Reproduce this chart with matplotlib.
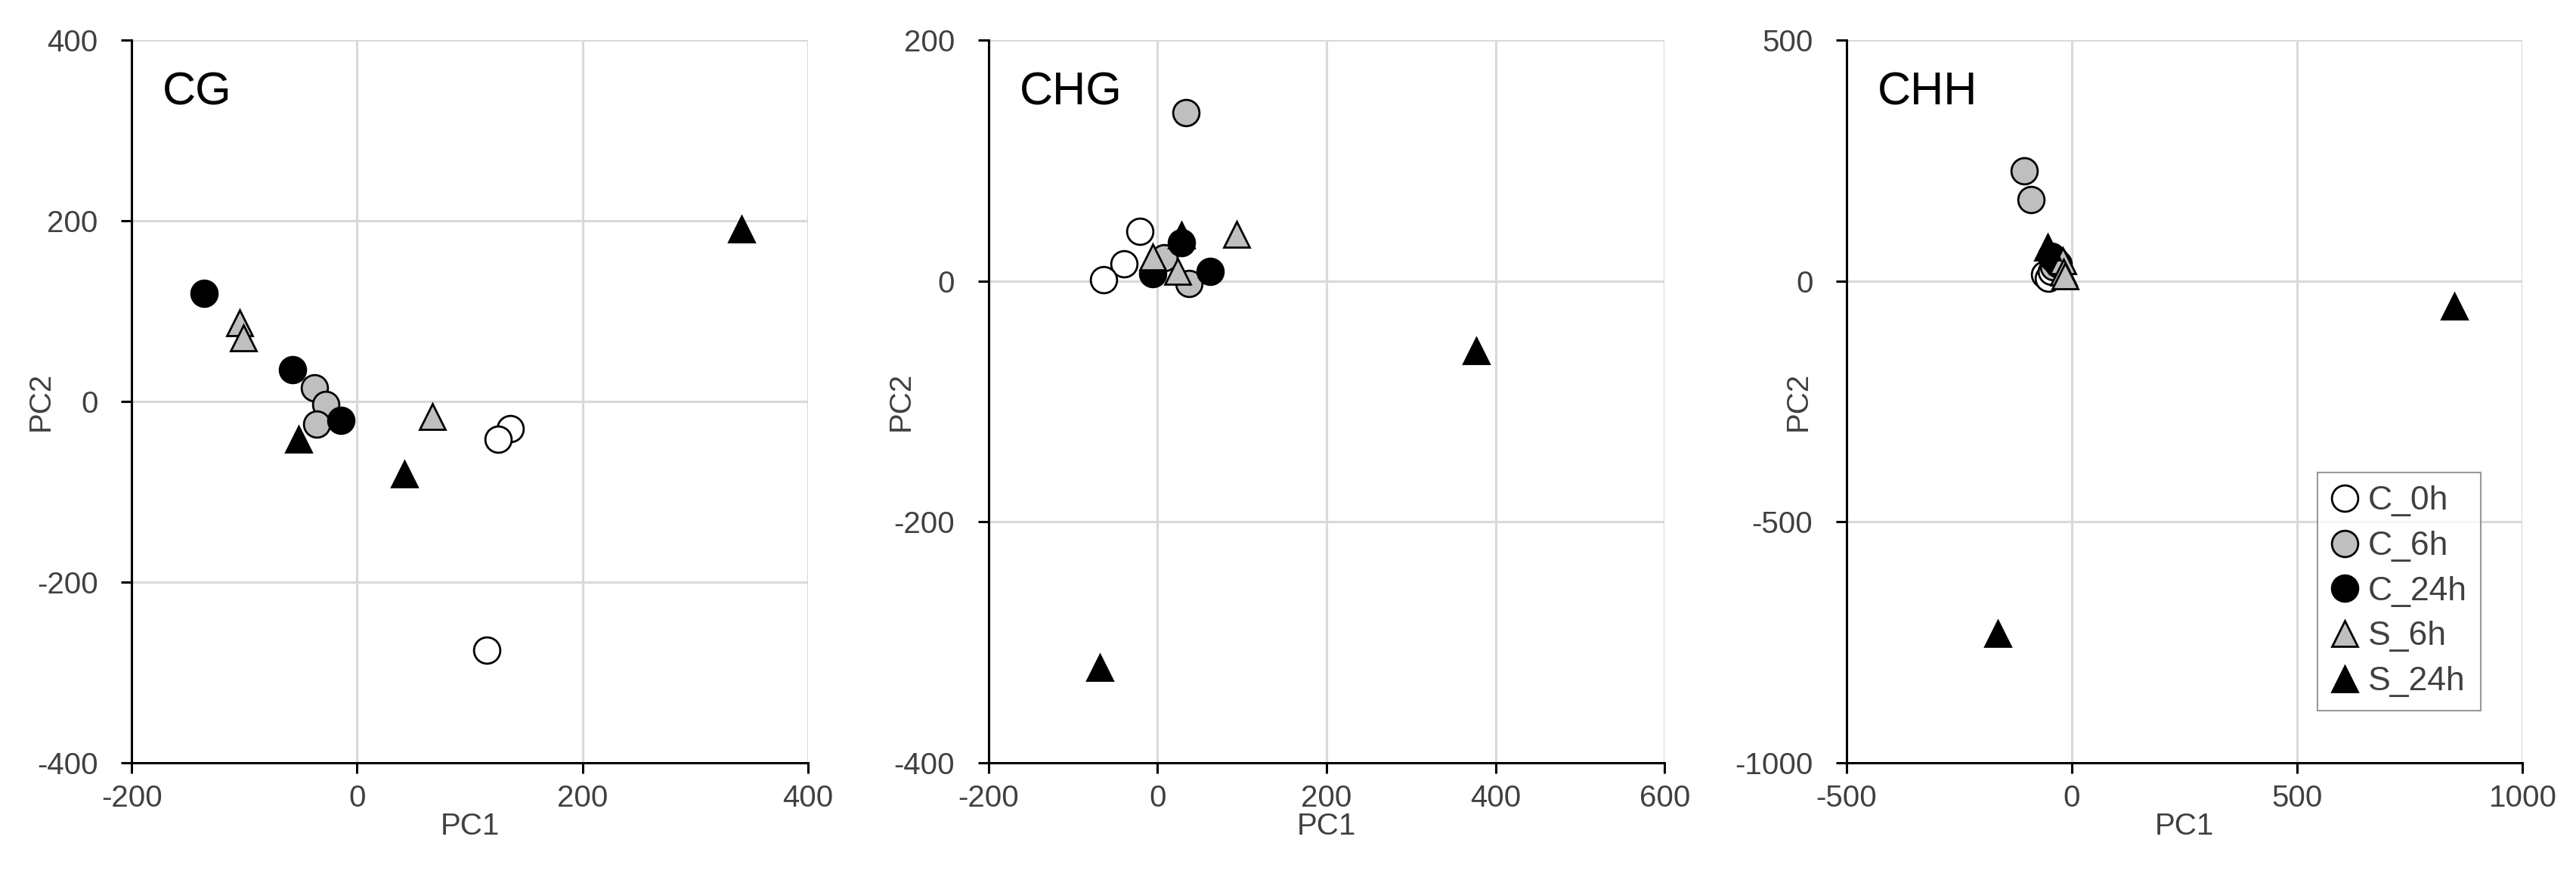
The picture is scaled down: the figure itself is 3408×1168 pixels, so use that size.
import matplotlib
matplotlib.use('Agg')
import matplotlib.pyplot as plt

plt.rcParams['font.family']=['Liberation Sans','DejaVu Sans']
plt.rcParams['axes.unicode_minus']=False

#series names, one entry per group
series=['C_0h','C_6h','C_24h','S_6h','S_24h']

#CG scores
cg_pc1=[[136,125,115],[-38,-28,-36],[-136,-57,-14],[-104,-101,67],[341,-52,42]]
cg_pc2=[[-30,-42,-275],[15,-3,-25],[120,35,-21],[87,70,-17],[191,-42,-80]]

#CHG scores
chg_pc1=[[-21,-40,-64],[34,8,37],[28,-6,62],[-6,24,94],[28,377,-68]]
chg_pc2=[[41,14,1],[140,19,-2],[32,6,8],[20,8,39],[38,-58,-321]]

#CHH scores
chh_pc1=[[-60,-52,-45],[-106,-91,-40],[-46,-38,-30],[-21,-19,-16],[-54,-164,849]]
chh_pc2=[[14,6,20],[228,169,30],[52,45,36],[42,18,10],[70,-731,-52]]

#axis ranges and ticks
titles=['CG','CHG','CHH']
x_ticks=[[-200,0,200,400],[-200,0,200,400,600],[-500,0,500,1000]]
y_ticks=[[-400,-200,0,200,400],[-400,-200,0,200],[-1000,-500,0,500]]

#------------------------------------------------------------------------------
#marker style of each group
markers=['o','o','o','^','^']
faces=['white','#bfbfbf','black','#bfbfbf','black']

tick_color='#404040'
grid_color='#d9d9d9'

figure=plt.figure(figsize=(34.08,11.68),dpi=100)

#axes positions in figure fraction
lefts=[0.0511,0.3837,0.7168]
ylabel_x=[-0.113,-0.108,-0.050]

list_pc1=[cg_pc1,chg_pc1,chh_pc1]
list_pc2=[cg_pc2,chg_pc2,chh_pc2]

for k in range(3):

    this_ax=figure.add_axes([lefts[k],0.1361,0.2625,0.8185])

    for i in range(len(series)):

        this_ax.plot(list_pc1[k][i],list_pc2[k][i],
                     linestyle='none',
                     marker=markers[i],
                     markersize=25,
                     markerfacecolor=faces[i],
                     markeredgecolor='black',
                     markeredgewidth=2.0,
                     label=series[i],
                     zorder=3)

    this_ax.set_xlim(x_ticks[k][0],x_ticks[k][-1])
    this_ax.set_ylim(y_ticks[k][0],y_ticks[k][-1])
    this_ax.set_xticks(x_ticks[k])
    this_ax.set_yticks(y_ticks[k])

    #excel like frame
    this_ax.grid(True,color=grid_color,linewidth=2.2,zorder=0)
    this_ax.set_axisbelow(True)
    this_ax.spines['top'].set_visible(False)
    this_ax.spines['right'].set_visible(False)
    for side in ['left','bottom']:
        this_ax.spines[side].set_linewidth(2.2)
        this_ax.spines[side].set_color('black')

    this_ax.tick_params(axis='both',direction='out',length=10,width=2.2,
                        labelsize=29,labelcolor=tick_color)
    this_ax.tick_params(axis='x',pad=10)
    this_ax.tick_params(axis='y',pad=22)

    this_ax.set_xlabel('PC1',fontsize=29,color=tick_color)
    this_ax.set_ylabel('PC2',fontsize=29,color=tick_color)
    this_ax.xaxis.set_label_coords(0.5,-0.068)
    this_ax.yaxis.set_label_coords(ylabel_x[k],0.5)

    this_ax.text(0.046,0.927,titles[k],transform=this_ax.transAxes,
                 fontsize=44,ha='left',va='center',color='black')

    if k==2:

        legend=this_ax.legend(loc='upper left',bbox_to_anchor=(0.697,0.402),
                              fontsize=32,frameon=True,fancybox=False,
                              handlelength=0.8,handletextpad=0.3,
                              labelspacing=0.42,borderpad=0.4,
                              borderaxespad=0,markerscale=1.0)
        legend.get_frame().set_edgecolor('#808080')
        legend.get_frame().set_linewidth(1.5)
        for text in legend.get_texts():
            text.set_color(tick_color)

figure.savefig('out.png',dpi=100)
plt.close()
